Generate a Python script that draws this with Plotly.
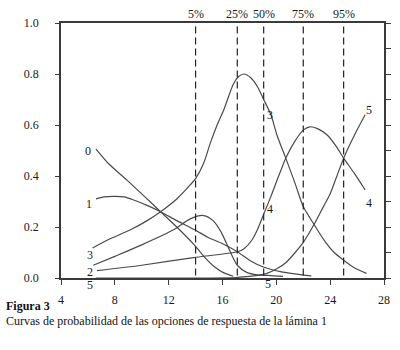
import plotly.graph_objects as go

# ---- data ----
x0 = [6.6, 7.5, 8.9, 10.2, 11.4, 12.6, 13.9, 14.7, 15.4, 16.1, 16.8]
y0 = [0.505, 0.45, 0.384, 0.32, 0.26, 0.20, 0.13, 0.08, 0.044, 0.02, 0.007]

x1 = [6.6, 7.2, 8.0, 8.7, 9.4, 10.4, 11.4, 12.6, 13.9, 14.9, 15.9, 17.1, 18.0, 19.0, 20.3, 21.5, 22.6]
y1 = [0.31, 0.318, 0.32, 0.318, 0.306, 0.285, 0.26, 0.225, 0.19, 0.16, 0.137, 0.103, 0.07, 0.044, 0.025, 0.015, 0.008]

x2 = [6.4, 8.0, 10.0, 12.4, 13.6, 14.6, 15.3, 15.9, 16.6, 17.1, 17.8, 18.6, 19.4, 20.5]
y2 = [0.05, 0.085, 0.13, 0.19, 0.232, 0.245, 0.225, 0.18, 0.10, 0.05, 0.022, 0.012, 0.01, 0.006]

x3 = [6.35, 7.5, 9.2, 10.4, 11.4, 12.6, 13.6, 14.0, 14.6, 15.1, 15.6, 16.1, 16.8, 17.2, 17.6,
      18.1, 18.6, 19.06, 19.6, 20.05, 20.7, 21.4, 22.0, 22.8, 23.6, 24.3, 25.0, 25.8, 26.7]
y3 = [0.118, 0.15, 0.19, 0.225, 0.26, 0.31, 0.365, 0.39, 0.45, 0.53, 0.60, 0.66, 0.76, 0.79, 0.80,
      0.785, 0.75, 0.70, 0.64, 0.56, 0.47, 0.37, 0.28, 0.21, 0.145, 0.10, 0.07, 0.04, 0.018]

x4 = [6.67, 10.0, 13.85, 17.1, 17.6, 18.2, 18.6, 19.06, 19.6, 20.1, 20.7, 21.3, 22.0, 22.5,
      23.1, 23.8, 24.4, 25.0, 25.8, 26.6]
y4 = [0.029, 0.05, 0.08, 0.103, 0.115, 0.15, 0.19, 0.25, 0.32, 0.39, 0.47, 0.53, 0.58, 0.593,
      0.585, 0.56, 0.52, 0.47, 0.41, 0.345]

x5 = [6.6, 10.0, 14.0, 17.0, 18.0, 18.6, 19.3, 20.0, 20.7, 21.4, 22.0, 22.8, 23.5, 24.0, 24.5,
      25.0, 25.8, 26.6]
y5 = [0.0, 0.0, 0.0, 0.002, 0.006, 0.01, 0.018, 0.035, 0.06, 0.10, 0.14, 0.21, 0.28, 0.33, 0.40,
      0.47, 0.56, 0.64]

pct_x = [14.0, 17.1, 19.06, 22.0, 25.0]
pct_labels = ["5%", "25%", "50%", "75%", "95%"]

# curve labels: (text, x, y, vertical pixel offset)
lab_text = ["0", "1", "3", "2", "5", "3", "4", "5", "5", "4"]
lab_x = [6.0, 6.1, 6.15, 6.15, 6.15, 19.55, 19.55, 19.35, 26.9, 26.9]
lab_y = [0.50, 0.29, 0.09, 0.024, 0.0, 0.64, 0.27, 0.0, 0.66, 0.295]
lab_shift = [0, 0, 0, 0, -7, 0, 0, -6, 0, 0]

x_ticks = [4, 8, 12, 16, 20, 24, 28]
y_ticks = [0.0, 0.2, 0.4, 0.6, 0.8, 1.0]
y_ticks_right = [0.1 * i for i in range(11)]

FONT = "Liberation Serif, Times New Roman, serif"
LINE = "#3a3a3a"

fig = go.Figure()
for xs, ys in [(x0, y0), (x1, y1), (x2, y2), (x3, y3), (x4, y4), (x5, y5)]:
    fig.add_trace(go.Scatter(x=xs, y=ys, mode="lines",
                             line=dict(color="#4a4a4a", width=1.2, shape="spline", smoothing=0.7),
                             hoverinfo="skip", showlegend=False))

for px in pct_x:
    fig.add_trace(go.Scatter(x=[px, px], y=[0.01, 1.0], mode="lines",
                             line=dict(color="#222", width=1.2, dash="7px,4px"),
                             hoverinfo="skip", showlegend=False))

# invisible trace to materialise the right-hand axis
fig.add_trace(go.Scatter(x=[x5[0]], y=[y5[0]], mode="markers", marker=dict(opacity=0),
                         yaxis="y2", hoverinfo="skip", showlegend=False))

for t, lx, ly, sh in zip(lab_text, lab_x, lab_y, lab_shift):
    fig.add_annotation(x=lx, y=ly, text=t, showarrow=False, yshift=sh,
                       font=dict(family=FONT, size=12, color="#1a1a1a"))

for px, t in zip(pct_x, pct_labels):
    fig.add_annotation(x=px, y=1.0, text=t, showarrow=False, yanchor="bottom", yshift=0,
                       font=dict(family=FONT, size=12, color="#1a1a1a"))

fig.add_annotation(xref="paper", yref="paper", x=-0.175, y=-0.145, xanchor="left",
                   text="<b>Figura 3</b>", showarrow=False,
                   font=dict(family=FONT, size=12, color="#111"))
fig.add_annotation(xref="paper", yref="paper", x=-0.175, y=-0.205, xanchor="left",
                   text="Curvas de probabilidad de las opciones de respuesta de la lámina 1",
                   showarrow=False, font=dict(family=FONT, size=12, color="#111"))

fig.update_layout(
    width=400, height=350,
    margin=dict(l=61, r=16, t=23, b=72, autoexpand=False),
    paper_bgcolor="white", plot_bgcolor="white",
    font=dict(family=FONT, size=12, color="#1a1a1a"),
    hovermode=False,
    xaxis=dict(range=[4, 28], tickvals=x_ticks, ticktext=[str(v) for v in x_ticks],
               showgrid=False, zeroline=False, showline=True, linecolor=LINE, linewidth=1.5,
               mirror=True, ticks="outside", ticklen=5, tickcolor=LINE,
               ticklabelstandoff=5, automargin=False),
    yaxis=dict(range=[0, 1], tickvals=y_ticks, ticktext=[f"{v:.1f}" for v in y_ticks],
               showgrid=False, zeroline=False, showline=True, linecolor=LINE, linewidth=1.5,
               ticks="outside", ticklen=4, tickcolor=LINE, ticklabelstandoff=14,
               automargin=False),
    yaxis2=dict(range=[0, 1], overlaying="y", side="right", tickvals=y_ticks_right,
                showticklabels=False, showgrid=False, zeroline=False, showline=True,
                linecolor=LINE, linewidth=1.5, ticks="outside", ticklen=5, tickcolor=LINE,
                automargin=False),
)

fig.write_html("out.html", config={"displayModeBar": False},
               post_script="document.body.style.margin='0';document.body.style.padding='0';")
